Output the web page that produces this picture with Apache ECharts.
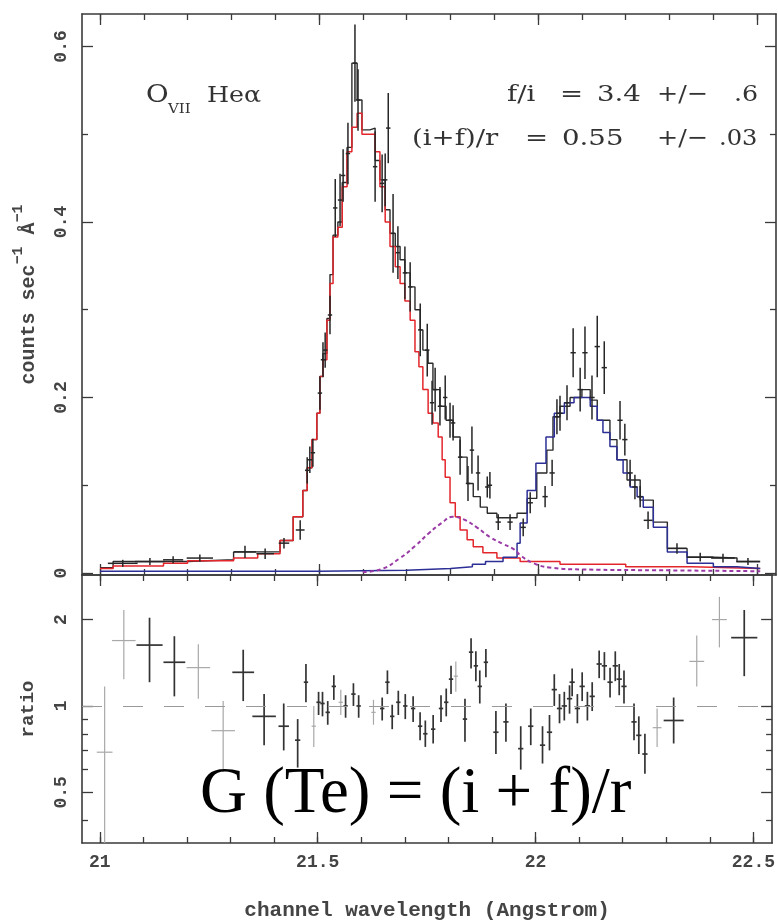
<!DOCTYPE html>
<html><head><meta charset="utf-8">
<script src="https://cdn.jsdelivr.net/npm/echarts@6/dist/echarts.min.js"></script>
<style>html,body{margin:0;padding:0;background:#fff}#c{width:778px;height:922px}</style>
</head><body><div id="c"></div>
<script>
// ---------- axis ticks / labels ----------
const xMajorTicks = [21, 21.5, 22, 22.5];
const xMinorTicks = [21.0,21.1,21.2,21.3,21.4,21.5,21.6,21.7,21.8,21.9,22.0,22.1,22.2,22.3,22.4,22.5];
const yTopMajorTicks = [0, 0.2, 0.4, 0.6];
const yTopMinorTicks = [0.1, 0.3, 0.5];
const ratioMajorTicks = [0.5, 1, 2];
const ratioMinorTicks = [0.4, 0.6, 0.7, 0.8, 0.9];

// ---------- model components (bin left edge, value) ----------
const modelTotal = [
 [21.000,0.006],[21.030,0.013],[21.200,0.015],[21.305,0.024],[21.411,0.037],[21.441,0.064],
 [21.463,0.094],[21.473,0.120],[21.484,0.152],[21.495,0.182],[21.502,0.224],[21.509,0.250],
 [21.518,0.290],[21.525,0.340],[21.532,0.385],[21.543,0.400],[21.553,0.445],[21.564,0.485],
 [21.575,0.581],[21.587,0.539],[21.598,0.505],[21.616,0.507],[21.628,0.470],[21.639,0.448],
 [21.651,0.414],[21.662,0.387],[21.674,0.372],[21.685,0.357],[21.696,0.342],[21.708,0.326],
 [21.719,0.300],[21.731,0.277],[21.737,0.254],[21.749,0.239],[21.760,0.209],[21.776,0.190],
 [21.790,0.174],[21.806,0.155],[21.822,0.132],[21.838,0.102],[21.852,0.087],[21.868,0.075],
 [21.884,0.068],[21.906,0.063],[21.952,0.068],[21.975,0.085],[21.997,0.114],[22.020,0.140],
 [22.034,0.178],[22.050,0.190],[22.073,0.200],[22.100,0.209],[22.119,0.197],[22.135,0.174],
 [22.164,0.152],[22.180,0.129],[22.203,0.106],[22.233,0.083],[22.263,0.058],[22.295,0.028],
 [22.340,0.018],[22.400,0.017],[22.454,0.013],[22.507,0.013]
];
const modelResonance = [
 [21.000,0.005],[21.030,0.008],[21.145,0.011],[21.200,0.014],[21.305,0.017],[21.360,0.022],
 [21.411,0.037],[21.441,0.064],[21.463,0.094],[21.473,0.120],[21.484,0.152],[21.495,0.182],
 [21.502,0.224],[21.509,0.243],[21.518,0.288],[21.525,0.330],[21.532,0.383],[21.543,0.394],
 [21.553,0.440],[21.564,0.480],[21.575,0.508],[21.587,0.524],[21.598,0.500],[21.616,0.500],
 [21.628,0.480],[21.639,0.440],[21.651,0.400],[21.662,0.372],[21.674,0.349],[21.685,0.330],
 [21.696,0.310],[21.708,0.288],[21.719,0.252],[21.728,0.235],[21.737,0.209],[21.749,0.182],
 [21.760,0.171],[21.772,0.155],[21.781,0.129],[21.788,0.109],[21.799,0.080],[21.811,0.064],
 [21.822,0.049],[21.838,0.038],[21.852,0.030],[21.874,0.023],[21.906,0.017],[21.959,0.013],
 [22.050,0.010],[22.200,0.007],[22.350,0.005],[22.507,0.005]
];
const modelForbidden = [
 [21.000,0.002],[21.500,0.003],[21.700,0.005],[21.800,0.007],[21.850,0.010],[21.880,0.013],
 [21.920,0.018],[21.952,0.034],[21.959,0.057],[21.975,0.094],[21.995,0.125],[22.018,0.155],
 [22.037,0.182],[22.060,0.194],[22.082,0.200],[22.119,0.190],[22.135,0.174],[22.148,0.160],
 [22.164,0.144],[22.180,0.129],[22.194,0.114],[22.210,0.098],[22.226,0.087],[22.240,0.075],
 [22.263,0.052],[22.295,0.024],[22.340,0.011],[22.400,0.007],[22.454,0.005],[22.507,0.005]
];
const modelIntercomb = [
 [21.600,0.001],[21.640,0.004],[21.685,0.017],[21.720,0.031],[21.750,0.045],[21.780,0.057],
 [21.805,0.064],[21.830,0.061],[21.860,0.052],[21.890,0.041],[21.920,0.033],[21.945,0.027],
 [21.960,0.020],[21.990,0.011],[22.030,0.006],[22.100,0.004],[22.300,0.003],[22.507,0.002]
];

// ---------- spectrum data points: wavelength, rate, half-bin, 1-sigma ----------
const spectrum = [
 [21.052,0.011,0.034,0.004],[21.114,0.013,0.034,0.004],[21.167,0.015,0.023,0.004],
 [21.228,0.017,0.030,0.004],[21.331,0.024,0.025,0.007],[21.377,0.022,0.020,0.006],
 [21.420,0.034,0.012,0.006],[21.457,0.049,0.010,0.011],[21.473,0.117,0.005,0.015],
 [21.479,0.129,0.005,0.015],[21.486,0.137,0.005,0.016],[21.502,0.205,0.005,0.019],
 [21.509,0.243,0.005,0.020],[21.514,0.254,0.005,0.020],[21.525,0.294,0.005,0.022],
 [21.537,0.416,0.005,0.033],[21.548,0.425,0.005,0.030],[21.555,0.453,0.005,0.030],
 [21.566,0.478,0.005,0.035],[21.582,0.581,0.005,0.044],[21.589,0.539,0.005,0.035],
 [21.628,0.463,0.005,0.040],[21.658,0.507,0.005,0.040],[21.644,0.444,0.005,0.033],
 [21.651,0.448,0.005,0.030],[21.669,0.387,0.005,0.045],[21.680,0.365,0.005,0.030],
 [21.696,0.342,0.005,0.030],[21.708,0.326,0.005,0.028],[21.731,0.277,0.005,0.030],
 [21.747,0.254,0.005,0.030],[21.758,0.194,0.005,0.025],[21.765,0.209,0.005,0.025],
 [21.776,0.190,0.005,0.022],[21.788,0.200,0.005,0.025],[21.799,0.174,0.005,0.020],
 [21.806,0.171,0.005,0.020],[21.822,0.132,0.005,0.020],[21.849,0.140,0.005,0.027],
 [21.840,0.102,0.005,0.020],[21.863,0.114,0.005,0.020],[21.884,0.098,0.005,0.012],
 [21.890,0.100,0.005,0.015],[21.909,0.058,0.006,0.009],[21.936,0.058,0.006,0.009],
 [21.966,0.052,0.006,0.010],[21.982,0.080,0.006,0.012],[22.016,0.087,0.006,0.012],
 [22.032,0.114,0.006,0.015],[22.043,0.178,0.006,0.020],[22.050,0.182,0.006,0.020],
 [22.066,0.194,0.006,0.020],[22.080,0.251,0.006,0.028],[22.096,0.209,0.006,0.025],
 [22.107,0.251,0.006,0.030],[22.123,0.200,0.006,0.025],[22.135,0.258,0.006,0.035],
 [22.151,0.234,0.006,0.030],[22.187,0.174,0.006,0.022],[22.198,0.152,0.006,0.018],
 [22.210,0.114,0.006,0.015],[22.221,0.098,0.006,0.014],[22.233,0.087,0.006,0.012],
 [22.251,0.060,0.010,0.010],[22.317,0.028,0.022,0.006],[22.370,0.018,0.030,0.005],
 [22.422,0.017,0.027,0.005],[22.479,0.013,0.027,0.004]
];

// ---------- data/model ratio: wavelength, ratio, half-bin, low, high ----------
const ratioSet1 = [
 [21.114,1.63,0.030,1.21,2.03],[21.171,1.42,0.025,1.08,1.75],[21.329,1.31,0.025,1.04,1.57],
 [21.377,0.92,0.027,0.73,1.10],[21.422,0.85,0.012,0.70,1.02],[21.454,0.76,0.006,0.61,0.90],
 [21.473,1.21,0.005,1.03,1.40],[21.502,1.03,0.005,0.93,1.12],[21.511,1.02,0.005,0.92,1.12],
 [21.523,0.95,0.005,0.86,1.04],[21.537,1.17,0.005,1.05,1.28],[21.564,1.00,0.005,0.91,1.09],
 [21.582,1.10,0.005,1.00,1.20],[21.594,1.00,0.005,0.91,1.09],[21.648,0.98,0.005,0.89,1.07],
 [21.660,1.21,0.005,1.10,1.33],[21.671,0.92,0.005,0.83,1.01],[21.685,1.03,0.005,0.93,1.13],
 [21.701,1.00,0.005,0.90,1.10],[21.719,0.98,0.005,0.88,1.08],[21.735,0.85,0.005,0.76,0.95],
 [21.747,0.80,0.005,0.72,0.89],[21.765,0.83,0.005,0.74,0.93],[21.783,0.98,0.005,0.88,1.09],
 [21.795,1.03,0.005,0.92,1.15],[21.806,1.24,0.005,1.10,1.38],[21.838,0.90,0.005,0.75,1.06],
 [21.852,1.54,0.005,1.35,1.72],[21.863,1.38,0.005,1.22,1.55],[21.872,1.17,0.005,1.02,1.33],
 [21.886,1.42,0.005,1.26,1.58],[21.909,0.81,0.006,0.68,0.96],[21.932,0.88,0.006,0.75,1.02],
 [21.966,0.71,0.006,0.60,0.85],[21.989,0.85,0.006,0.73,0.98],[22.016,0.73,0.006,0.63,0.85],
 [22.032,0.81,0.006,0.70,0.93],[22.043,1.14,0.006,1.00,1.29],[22.055,0.98,0.006,0.87,1.10],
 [22.066,1.00,0.006,0.89,1.12],[22.078,1.06,0.006,0.94,1.18],[22.084,1.21,0.006,1.08,1.35],
 [22.096,0.98,0.006,0.87,1.10],[22.107,1.17,0.006,1.04,1.31],[22.119,1.00,0.006,0.89,1.12],
 [22.130,1.08,0.006,0.96,1.21],[22.146,1.40,0.006,1.25,1.56],[22.158,1.38,0.006,1.23,1.54],
 [22.171,1.21,0.006,1.07,1.36],[22.183,1.38,0.006,1.22,1.55],[22.192,1.24,0.006,1.09,1.40],
 [22.203,1.17,0.006,1.02,1.33],[22.226,0.88,0.006,0.76,1.02],[22.237,0.79,0.006,0.68,0.92],
 [22.251,0.68,0.006,0.58,0.80],[22.317,0.89,0.023,0.74,1.07],[22.479,1.73,0.030,1.27,2.16]
];
const ratioSet2 = [
 [21.011,0.69,0.018,0.30,1.17],[21.055,1.69,0.027,1.24,2.16],[21.226,1.36,0.027,1.06,1.64],
 [21.283,0.82,0.027,0.59,1.04],[21.491,0.85,0.005,0.72,1.00],[21.553,1.03,0.005,0.93,1.14],
 [21.628,0.95,0.005,0.86,1.05],[21.817,1.27,0.005,1.12,1.43],[22.279,0.84,0.010,0.72,0.98],
 [22.370,1.43,0.017,1.17,1.76],[22.422,2.00,0.017,1.60,2.40]
];

// ---------- layout ----------
const X_MIN = 20.959, X_MAX = 22.543;
const Y_MIN = -0.0023, Y_MAX = 0.637;
const R_MIN = 0.333, R_MAX = 2.86;
const FRAME = '#3a3a3a';
const MONO = 'Liberation Mono';
const SERIF = 'DejaVu Serif';

function fmt(v){ return String(Math.round(v*100)/100); }

function axis(dim, grid, pos, type, min, max, ticks, len, labels, showLine, extra) {
  const a = {
    type: type, gridIndex: grid, position: pos, min: min, max: max,
    axisLine: {show: showLine, onZero: false, lineStyle: {color: FRAME, width: 1.6}},
    axisTick: {show: true, inside: true, length: len, customValues: ticks,
               lineStyle: {color: FRAME, width: 1.3}},
    axisLabel: labels ? {show: true, customValues: labels, formatter: fmt,
               fontFamily: MONO, fontWeight: 'bold', fontSize: 18, color: '#444'} : {show: false},
    splitLine: {show: false}
  };
  if (type === 'log') a.logBase = 10;
  return Object.assign(a, extra || {});
}

const xAxes = [], yAxes = [];
// grid 0 (spectrum)
xAxes.push(axis('x',0,'bottom','value',X_MIN,X_MAX,xMajorTicks,11,null,true));
xAxes.push(axis('x',0,'bottom','value',X_MIN,X_MAX,xMinorTicks,6,null,false));
xAxes.push(axis('x',0,'top','value',X_MIN,X_MAX,xMajorTicks,11,null,true));
xAxes.push(axis('x',0,'top','value',X_MIN,X_MAX,xMinorTicks,6,null,false));
// grid 1 (ratio)
xAxes.push(axis('x',1,'bottom','value',X_MIN,X_MAX,xMajorTicks,11,xMajorTicks,true,{
  name: 'channel wavelength (Angstrom)', nameLocation: 'middle', nameGap: 57,
  nameTextStyle: {fontFamily: MONO, fontWeight: 'bold', fontSize: 21, color: '#444'}
}));
xAxes[4].axisLabel.margin = 10;
xAxes.push(axis('x',1,'bottom','value',X_MIN,X_MAX,xMinorTicks,6,null,false));
xAxes.push(axis('x',1,'top','value',X_MIN,X_MAX,xMajorTicks,11,null,true));
xAxes.push(axis('x',1,'top','value',X_MIN,X_MAX,xMinorTicks,6,null,false));

yAxes.push(axis('y',0,'left','value',Y_MIN,Y_MAX,yTopMajorTicks,11,yTopMajorTicks,true,{
  name: '{n|counts sec}{s|−1}{n| Å}{s|−1}', nameLocation: 'middle', nameGap: 43, nameRotate: 90,
  nameTextStyle: {fontFamily: MONO, fontWeight: 'bold', fontSize: 20, color: '#444',
    rich: {n: {fontFamily: MONO, fontWeight: 'bold', fontSize: 20, color: '#444', lineHeight: 28, verticalAlign: 'bottom'},
           s: {fontFamily: MONO, fontWeight: 'bold', fontSize: 15, color: '#444', lineHeight: 28, verticalAlign: 'top'}}}
}));
yAxes[0].axisLabel.rotate = 90; yAxes[0].axisLabel.margin = 12;
yAxes.push(axis('y',0,'left','value',Y_MIN,Y_MAX,yTopMinorTicks,6,null,false));
yAxes.push(axis('y',0,'right','value',Y_MIN,Y_MAX,yTopMajorTicks,11,null,true));
yAxes.push(axis('y',0,'right','value',Y_MIN,Y_MAX,yTopMinorTicks,6,null,false));
yAxes.push(axis('y',1,'left','log',R_MIN,R_MAX,ratioMajorTicks,11,ratioMajorTicks,true,{
  name: 'ratio', nameLocation: 'middle', nameGap: 44, nameRotate: 90,
  nameTextStyle: {fontFamily: MONO, fontWeight: 'bold', fontSize: 19, color: '#444'}
}));
yAxes[4].axisLabel.rotate = 90; yAxes[4].axisLabel.margin = 12;
yAxes.push(axis('y',1,'left','log',R_MIN,R_MAX,ratioMinorTicks,6,null,false));
yAxes.push(axis('y',1,'right','log',R_MIN,R_MAX,ratioMajorTicks,11,null,true));
yAxes.push(axis('y',1,'right','log',R_MIN,R_MAX,ratioMinorTicks,6,null,false));

function crossRenderer(color, width) {
  return function (params, api) {
    const x = api.value(0), y = api.value(1), xe = api.value(2), lo = api.value(3), hi = api.value(4);
    const a = api.coord([x - xe, y]), b = api.coord([x + xe, y]);
    const c = api.coord([x, lo]), d = api.coord([x, hi]);
    const st = {stroke: color, lineWidth: width};
    return {type: 'group', children: [
      {type: 'line', shape: {x1: a[0], y1: a[1], x2: b[0], y2: b[1]}, style: st},
      {type: 'line', shape: {x1: c[0], y1: c[1], x2: d[0], y2: d[1]}, style: st}
    ]};
  };
}

const specCross = spectrum.map(p => [p[0], p[1], p[2], p[1] - p[3], p[1] + p[3]]);

function stepLine(name, data, color, width, z) {
  return {name, type: 'line', xAxisIndex: 0, yAxisIndex: 0, data, step: 'end', symbol: 'none',
    lineStyle: {color, width}, z, clip: true};
}

function txt(x, y, s, size, scale) {
  return {type: 'text', x: x, y: y, scaleX: scale,
    style: {text: s, x: 0, y: 0, fontFamily: SERIF, fontSize: size, fill: '#333', align: 'left', verticalAlign: 'middle'}};
}

const option = {
  animation: false,
  backgroundColor: '#fff',
  grid: [
    {left: 82, top: 14, width: 694, height: 561},
    {left: 82, top: 575, width: 694, height: 270}
  ],
  xAxis: xAxes,
  yAxis: yAxes,
  series: [
    stepLine('total', modelTotal, '#2a2a2a', 1.4, 2),
    stepLine('resonance', modelResonance, '#e3262b', 1.5, 3),
    stepLine('forbidden', modelForbidden, '#2c2f96', 1.5, 3),
    {name: 'intercombination', type: 'line', xAxisIndex: 0, yAxisIndex: 0, data: modelIntercomb,
     smooth: true, symbol: 'none', lineStyle: {color: '#9a3aa6', width: 2, type: [4, 3]}, z: 3},
    {name: 'data', type: 'custom', xAxisIndex: 0, yAxisIndex: 0, data: specCross,
     renderItem: crossRenderer('#262626', 1.5), clip: true, z: 4},
    {name: 'ratio2', type: 'custom', xAxisIndex: 4, yAxisIndex: 4, data: ratioSet2,
     renderItem: crossRenderer('#a8a8a8', 1.2), clip: true, z: 3},
    {name: 'ratio1', type: 'custom', xAxisIndex: 4, yAxisIndex: 4, data: ratioSet1,
     renderItem: crossRenderer('#333', 1.7), clip: true, z: 4,
     markLine: {silent: true, symbol: 'none', label: {show: false},
       lineStyle: {color: '#9a9a9a', width: 1.2, type: [20, 21]}, data: [{yAxis: 1}]}}
  ],
  graphic: [
    txt(146, 96, 'O', 24, 1.15),
    txt(168, 110, 'VII', 13, 1.15),
    txt(207, 96, 'Heα', 22, 1.15),

    txt(507, 95, 'f/i', 23, 1.2),
    txt(560, 95, '=', 23, 1.2),
    txt(597, 95, '3.4', 23, 1.2),
    txt(657, 95, '+/−', 23, 1.1),
    txt(734, 95, '.6', 23, 1.1),

    txt(412, 139, '(i+f)/r', 23, 1.2),
    txt(525, 139, '=', 23, 1.2),
    txt(562, 139, '0.55', 23, 1.2),
    txt(657, 139, '+/−', 23, 1.1),
    txt(719, 139, '.03', 23, 1.05),

    {type: 'text', x: 200, y: 795, z: 10,
     style: {text: 'G (Te) = (i + f)/r', x: 0, y: 0, fontFamily: 'Liberation Serif', fontSize: 65,
             fill: '#000', align: 'left', verticalAlign: 'middle'}}
  ]
};

const chart = echarts.init(document.getElementById('c'), null, {renderer: 'canvas'});
chart.setOption(option);
</script>
</body></html>
